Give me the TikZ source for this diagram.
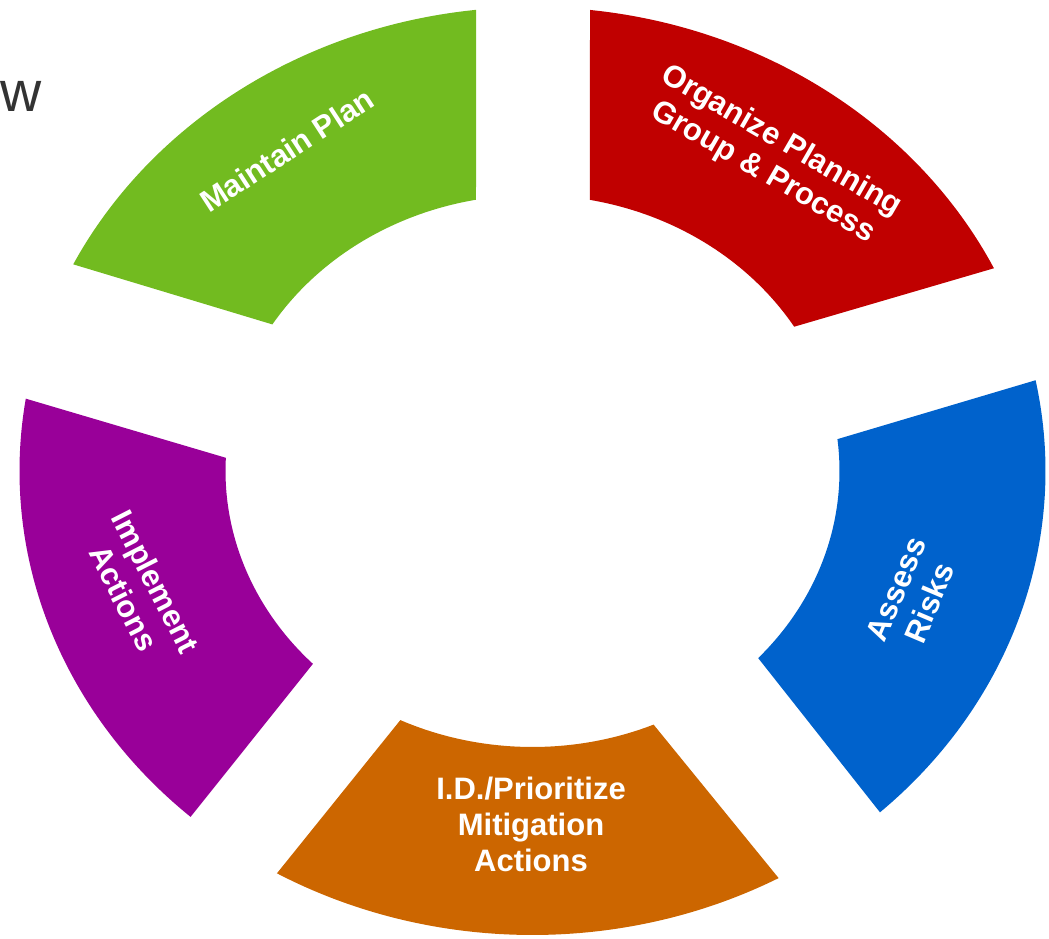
\documentclass[tikz,border=0pt]{standalone}
\usepackage{fontspec}
\setmainfont{Liberation Sans}
\definecolor{cred}{HTML}{C00000}
\definecolor{cblue}{HTML}{0062CC}
\definecolor{corange}{HTML}{CC6600}
\definecolor{cpurple}{HTML}{990099}
\definecolor{cgreen}{HTML}{72BB20}
\definecolor{cgray}{HTML}{333333}
\begin{document}
\begin{tikzpicture}[x=1pt,y=1pt,
  lbl/.style={text=white,font=\fontsize{31}{36}\selectfont\bfseries,align=center,inner sep=0pt}]
\useasboundingbox (0,0) rectangle (1049,938);
\begin{scope}[shift={(532.5,467)}]
% colour / outer start / outer end / inner start / inner end (parametric angles)
\foreach \c/\oa/\ob/\ia/\ib in {
  cgreen/96.30/153.55/147.92/100.61,
  cred/25.91/83.56/79.24/31.52,
  cblue/-47.36/11.28/6.63/-42.68,
  corange/-119.88/-61.33/-66.77/-115.5,
  cpurple/171.03/228.2/224.33/177.26}{
  \fill[\c] (\oa:513pt and 464pt)
    arc[start angle=\oa, end angle=\ob, x radius=513pt, y radius=464pt]
    -- (\ia:307pt and 276pt)
    arc[start angle=\ia, end angle=\ib, x radius=307pt, y radius=276pt] -- cycle;
}
\end{scope}
\node[lbl,rotate=-30] (tR) at (772,781) {Organize Planning\\Group \& Process};
\node[lbl,rotate=33] (tG) at (287,788) {Maintain Plan};
\node[lbl,rotate=67] (tB) at (913,342) {Assess\\Risks};
\node[lbl] (tO) at (531,114) {I.D./Prioritize\\Mitigation\\Actions};
\node[lbl,rotate=-63] (tP) at (140,348) {Implement\\Actions};
\node[anchor=base west,inner sep=0pt,text=cgray,font=\fontsize{57}{60}\selectfont] (w) at (0,826) {w};
\end{tikzpicture}
\end{document}
